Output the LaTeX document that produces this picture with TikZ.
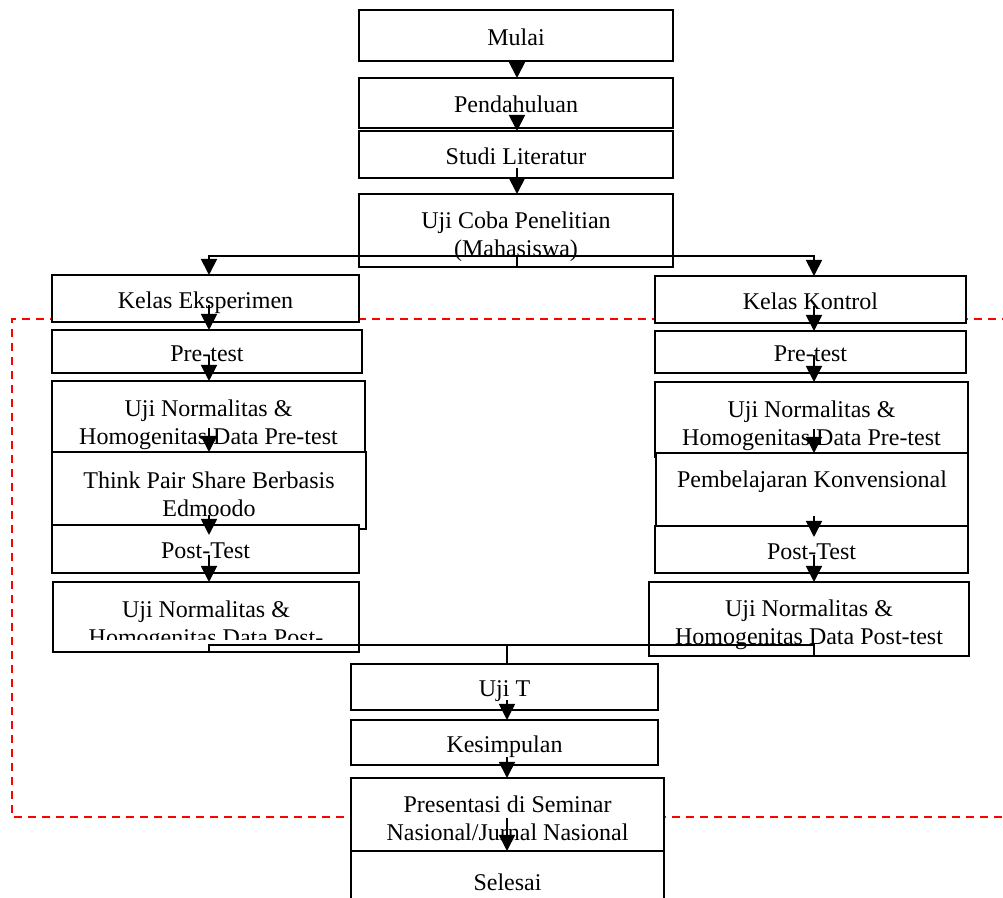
\documentclass[tikz,border=0pt]{standalone}
\usepackage{fontspec}
\setmainfont{Liberation Serif}
\usetikzlibrary{
  arrows.meta,
  calc,
  positioning,
}
\tikzset{
  x = 0.5pt,
  y = -0.5pt,
  n/.style={
    draw, fill=white, line width=0.9pt, align=center,
    inner sep=0pt, outer sep=0pt, font=\fontsize{12}{14}\selectfont,
    text height=13pt, text depth=3pt,
  },
  m/.style={n, text height=29pt},
  t/.style={
    align=center, inner sep=0pt, font=\fontsize{12}{14}\selectfont,
  },
  >={Triangle[length=8pt, width=8pt]},
}

\begin{document}
\begin{tikzpicture}[
  c/.style={line width=0.9pt},
  rd/.style={red, line width=0.7pt, dash pattern=on 4pt off 3pt},]
  \useasboundingbox (0,0) rectangle (1003,898);
  %%
  \draw[rd] (1010,319) -- (12,319) -- (12,817) -- (1010,817);
  %%
  \coordinate (mx) at (517,0);
  \coordinate (lx) at (209,0);
  \coordinate (rx) at (814,0);
  \coordinate (bx) at (507,0);
  %%
  \node[n, minimum width=157pt, minimum height=25.5pt] (Mulai) at (516,35.5) {Mulai};
  \node[n, minimum width=157pt, minimum height=25pt] (Pend) at (516,103) {Pendahuluan};
  \node[n, minimum width=157pt, minimum height=23.5pt] (Studi) at (516,154.5) {Studi Literatur};
  \node[m, minimum width=157pt, minimum height=36.5pt] (UjiCoba) at (516,230.5)
  {Uji Coba Penelitian\\(Mahasiswa)};
  %%
  \node[n, minimum width=153.5pt, minimum height=23.5pt] (KelasE) at (205.5,298.5) {Kelas Eksperimen};
  \node[n, minimum width=155pt, minimum height=21.5pt] (PreE) at (207,351.5) {Pre-test};
  \node[m, minimum width=156.5pt, minimum height=38pt] (NormPreE) at (208.5,419)
  {Uji Normalitas \&\\Homogenitas Data Pre-test};
  \node[m, minimum width=157pt, minimum height=38.5pt] (TPS) at (209,490.5)
  {Think Pair Share Berbasis\\Edmoodo};
  \node[n, minimum width=153.5pt, minimum height=24pt] (PostE) at (205.5,549) {Post-Test};
  \node[n, minimum width=153pt, minimum height=35pt] (NormPostE) at (206,617) {};
  \begin{scope}
    \clip (NormPostE.north west) rectangle ($(NormPostE.south east)+(0,-12)$);
    \node[t] (NormPostEtxt) at ($(NormPostE.center)+(0,9)$)
    {Uji Normalitas \&\\Homogenitas Data Post-};
  \end{scope}
  %%
  \node[n, minimum width=155.5pt, minimum height=23.5pt] (KelasK) at (810.5,299.5) {Kelas Kontrol};
  \node[n, minimum width=155.5pt, minimum height=21pt] (PreK) at (810.5,352) {Pre-test};
  \node[m, minimum width=156.5pt, minimum height=37.5pt] (NormPreK) at (811.5,419.5)
  {Uji Normalitas \&\\Homogenitas Data Pre-test};
  \node[m, minimum width=156pt, minimum height=36.5pt] (Konv) at (812,489.5)
  {Pembelajaran Konvensional\\~};
  \node[n, minimum width=156.5pt, minimum height=23.5pt] (PostK) at (811.5,549.5) {Post-Test};
  \node[m, minimum width=160pt, minimum height=37pt] (NormPostK) at (809,619)
  {Uji Normalitas \&\\Homogenitas Data Post-test};
  %%
  \node[n, minimum width=153.5pt, minimum height=23pt] (UjiT) at (504.5,687) {Uji T};
  \node[n, minimum width=153.5pt, minimum height=22.5pt] (Simpul) at (504.5,742.5) {Kesimpulan};
  \node[m, minimum width=156.5pt, minimum height=36.5pt] (Present) at (507.5,814.5)
  {Presentasi di Seminar\\Nasional/Jurnal Nasional};
  \node[n, minimum width=156.5pt, minimum height=29.5pt] (Selesai) at (507.5,880.5) {Selesai};
  %%
  \draw[c,->] (mx |- Mulai.south) -- (mx |- Pend.north);
  \draw[c,->] ($(mx |- Pend.south)+(0,-10)$) -- (mx |- Studi.north);
  \draw[c,->] ($(mx |- Studi.south)+(0,-10)$) -- (mx |- UjiCoba.north);
  %%
  \draw[c,->] (mx |- UjiCoba.south) -- ++(0,-11) coordinate (fk) -| (lx |- KelasE.north);
  \draw[c,->] (fk) -| (rx |- KelasK.north);
  %%
  \draw[c,->] ($(lx |- KelasE.south)+(0,-17)$) -- (lx |- PreE.north);
  \draw[c,->] ($(lx |- PreE.south)+(0,-18)$) -- (lx |- NormPreE.north);
  \draw[c,->] ($(lx |- TPS.north)+(0,-24)$) -- (lx |- TPS.north);
  \draw[c,->] ($(lx |- TPS.south)+(0,-14)$) -- ($(lx |- PostE.north)+(0,10)$);
  \draw[c,->] ($(lx |- PostE.south)+(0,-18)$) -- (lx |- NormPostE.north);
  %%
  \draw[c,->] ($(rx |- KelasK.south)+(0,-17)$) -- (rx |- PreK.north);
  \draw[c,->] ($(rx |- PreK.south)+(0,-18)$) -- (rx |- NormPreK.north);
  \draw[c,->] ($(rx |- Konv.north)+(0,-24)$) -- (rx |- Konv.north);
  \draw[c,->] ($(rx |- Konv.south)+(0,-10)$) -- ($(rx |- PostK.north)+(0,11)$);
  \draw[c,->] ($(rx |- PostK.south)+(0,-18)$) -- (rx |- NormPostK.north);
  %%
  \draw[c] (lx |- NormPostE.south) -- ++(0,-7) coordinate (mj) -| (rx |- NormPostK.south);
  \draw[c] (bx |- UjiT.north) -- (bx |- mj);
  %%
  \draw[c,->] ($(bx |- UjiT.south)+(0,-10)$) -- (bx |- Simpul.north);
  \draw[c,->] ($(bx |- Simpul.south)+(0,-8)$) -- (bx |- Present.north);
  \draw[c,->] ($(bx |- Present.south)+(0,-33)$) -- (bx |- Selesai.north);
\end{tikzpicture}
\end{document}
